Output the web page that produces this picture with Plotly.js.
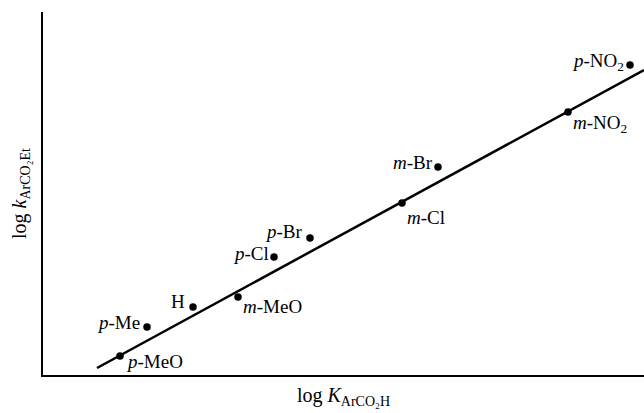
<!DOCTYPE html>
<html>
<head>
<meta charset="utf-8">
<script src="https://cdn.plot.ly/plotly-3.0.1.min.js"></script>
<style>html,body{margin:0;padding:0;background:#fff;}#chart{width:644px;height:413px;}</style>
</head>
<body>
<div id="chart"></div>
<script>
// Substituents (arbitrary units)
const substituents = ["p-MeO", "p-Me", "H", "m-MeO", "p-Cl", "p-Br", "m-Cl", "m-Br", "m-NO2", "p-NO2"];
const labelTexts = ["<i>p</i>-MeO", "<i>p</i>-Me", "H", "<i>m</i>-MeO", "<i>p</i>-Cl", "<i>p</i>-Br", "<i>m</i>-Cl", "<i>m</i>-Br", "<i>m</i>-NO<sub>2</sub>", "<i>p</i>-NO<sub>2</sub>"];
const logK = [0.77, 1.04, 1.50, 1.95, 2.31, 2.67, 3.59, 3.95, 5.25, 5.87];
const logk = [0.19, 0.48, 0.68, 0.78, 1.18, 1.37, 1.72, 2.08, 2.63, 3.10];
// Regression line end points
const lineX = [0.54, 6.01];
const lineY = [0.07, 3.05];

// label placement (style): anchor side and pixel offsets
const placement = {
  "p-MeO": {xa: "left", xs: 4, ys: -5},
  "p-Me": {xa: "right", xs: -5, ys: 5},
  "H": {xa: "right", xs: -6, ys: 6},
  "m-MeO": {xa: "left", xs: 3, ys: -9},
  "p-Cl": {xa: "right", xs: -3, ys: 4},
  "p-Br": {xa: "right", xs: -5, ys: 7},
  "m-Cl": {xa: "left", xs: 3, ys: -14},
  "m-Br": {xa: "right", xs: -3, ys: 5},
  "m-NO2": {xa: "left", xs: 3, ys: -12},
  "p-NO2": {xa: "right", xs: -4, ys: 3}
};

const labelFont = {family: "Liberation Serif, Times New Roman, serif", size: 19, color: "#000"};
const titleFont = {family: "Liberation Serif, Times New Roman, serif", size: 20, color: "#000"};

const annotations = substituents.map((s, i) => ({
  x: logK[i], y: logk[i], xref: "x", yref: "y",
  text: labelTexts[i], showarrow: false,
  xanchor: placement[s].xa, yanchor: "middle",
  xshift: placement[s].xs, yshift: placement[s].ys,
  font: labelFont
}));

const traces = [
  {x: lineX, y: lineY, mode: "lines", line: {color: "#000", width: 2.5}, hoverinfo: "skip"},
  {x: logK, y: logk, mode: "markers", marker: {color: "#000", size: 7.5}, text: substituents}
];

const layout = {
  width: 644, height: 413,
  margin: {l: 43, r: 0, t: 12, b: 38},
  paper_bgcolor: "#fff", plot_bgcolor: "#fff",
  showlegend: false,
  font: titleFont,
  xaxis: {range: [0, 6.01], showline: true, linecolor: "#000", linewidth: 2,
          showgrid: false, zeroline: false, showticklabels: false, ticks: "",
          title: {text: "log <i>K</i><sub>ArCO\u2082H</sub>", font: titleFont, standoff: 12}},
  yaxis: {range: [0, 3.63], showline: true, linecolor: "#000", linewidth: 2,
          showgrid: false, zeroline: false, showticklabels: false, ticks: "",
          title: {text: "log <i>k</i><sub>ArCO\u2082Et</sub>", font: titleFont, standoff: 9}},
  annotations: annotations
};

Plotly.newPlot("chart", traces, layout, {displayModeBar: false, staticPlot: true});
</script>
</body>
</html>
